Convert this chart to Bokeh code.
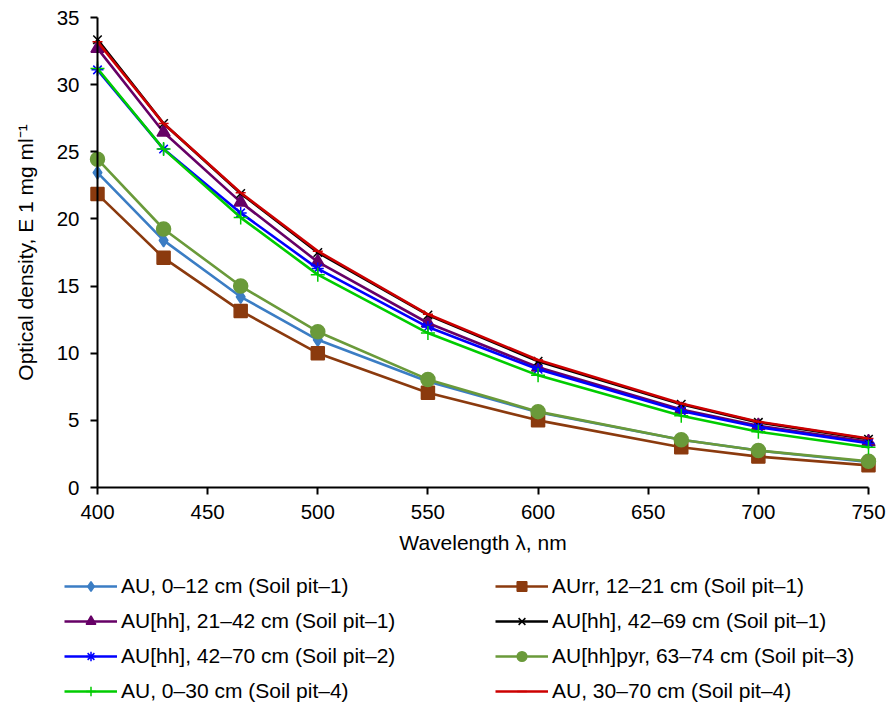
from bokeh.plotting import figure
from bokeh.models import Range1d, Legend, LegendItem, FixedTicker
from bokeh.embed import file_html
from bokeh.resources import INLINE

wavelength = [400, 430, 465, 500, 550, 600, 665, 700, 750]

au_0_12_p1 = [23.45, 18.4, 14.2, 11.0, 7.9, 5.6, 3.55, 2.75, 1.9]
aurr_12_21_p1 = [21.85, 17.1, 13.15, 10.0, 7.05, 5.0, 3.0, 2.3, 1.65]
auhh_21_42_p1 = [32.7, 26.45, 21.25, 16.8, 12.25, 8.95, 5.8, 4.6, 3.4]
auhh_42_69_p1 = [33.35, 27.1, 21.9, 17.5, 12.85, 9.4, 6.2, 4.85, 3.6]
auhh_42_70_p2 = [31.1, 25.2, 20.45, 16.3, 11.95, 8.8, 5.7, 4.5, 3.3]
auhhpyr_63_74_p3 = [24.45, 19.25, 15.0, 11.6, 8.05, 5.65, 3.55, 2.75, 1.95]
au_0_30_p4 = [31.2, 25.2, 20.1, 15.85, 11.5, 8.35, 5.35, 4.15, 3.0]
au_30_70_p4 = [33.2, 27.1, 21.95, 17.6, 12.9, 9.5, 6.25, 4.9, 3.65]

labels = [
    "AU, 0\u201312 cm (Soil pit\u20131)",
    "AUrr, 12\u201321 cm (Soil pit\u20131)",
    "AU[hh], 21\u201342 cm (Soil pit\u20131)",
    "AU[hh], 42\u201369 cm (Soil pit\u20131)",
    "AU[hh], 42\u201370 cm (Soil pit\u20132)",
    "AU[hh]pyr, 63\u201374 cm (Soil pit\u20133)",
    "AU, 0\u201330 cm (Soil pit\u20134)",
    "AU, 30\u201370 cm (Soil pit\u20134)",
]
series = [au_0_12_p1, aurr_12_21_p1, auhh_21_42_p1, auhh_42_69_p1,
          auhh_42_70_p2, auhhpyr_63_74_p3, au_0_30_p4, au_30_70_p4]
colors = ["#3B7DC4", "#8B3A0E", "#660066", "#000000",
          "#0000FF", "#6A9A3A", "#00CC00", "#CC0000"]
markers = ["diamond", "square", "triangle", "x",
           "asterisk", "circle", "cross", "dash"]
msizes = [13, 13, 13, 12, 12, 14, 14, 10]

x_ticks = [400, 450, 500, 550, 600, 650, 700, 750]
y_ticks = [0, 5, 10, 15, 20, 25, 30, 35]
x_min, x_max = 400, 750
y_min, y_max = 0, 35

FONT = "Liberation Sans"
W, H = 888, 703
# plot-area placement in pixels (frame covers whole canvas; axes are fixed)
PL, PR, PT, PB = 97, 868, 17, 487
sx = (PR - PL) / (x_max - x_min)
sy = (PB - PT) / (y_max - y_min)
xr = Range1d(x_min - PL / sx, x_max + (W - PR) / sx)
yr = Range1d(y_min - (H - PB) / sy, y_max + PT / sy)

p = figure(width=W, height=H, output_backend="svg", toolbar_location=None,
           x_range=xr, y_range=yr,
           min_border_left=0, min_border_right=0, min_border_top=0,
           min_border_bottom=0)
p.outline_line_color = None
p.grid.visible = False
p.background_fill_color = "white"
p.border_fill_color = "white"

for ax in (p.xaxis[0], p.yaxis[0]):
    ax.axis_line_width = 2
    ax.axis_line_color = "black"
    ax.major_tick_line_width = 2
    ax.major_tick_line_color = "black"
    ax.major_tick_out = 7
    ax.major_tick_in = 0
    ax.minor_tick_line_color = None
    ax.major_label_text_font = FONT
    ax.major_label_text_font_size = "20.5px"
    ax.major_label_text_color = "black"
    ax.axis_label_text_font = FONT
    ax.axis_label_text_font_size = "21px"
    ax.axis_label_text_font_style = "normal"
    ax.axis_label_text_color = "black"

p.xaxis[0].ticker = FixedTicker(ticks=x_ticks)
p.yaxis[0].ticker = FixedTicker(ticks=y_ticks)
p.xaxis[0].bounds = (x_min, x_max)
p.yaxis[0].bounds = (y_min, y_max)
p.xaxis[0].fixed_location = y_min
p.yaxis[0].fixed_location = x_min
p.xaxis[0].axis_label = "Wavelength \u03bb, nm"
p.yaxis[0].axis_label = "Optical density, E 1 mg ml\u207b\u00b9"
p.xaxis[0].major_label_standoff = 10
p.yaxis[0].major_label_standoff = 11
p.xaxis[0].axis_label_standoff = 9
p.yaxis[0].axis_label_standoff = 17

items = []
for lab, ys, c, m, s in zip(labels, series, colors, markers, msizes):
    lr = p.line(wavelength, ys, line_color=c, line_width=2.6)
    mr = p.scatter(wavelength, ys, marker=m, size=s, fill_color=c,
                   line_color=c, line_width=1.5)
    items.append(LegendItem(label=lab, renderers=[lr, mr]))

def make_legend(its, loc):
    return Legend(items=its, location=loc, orientation="vertical",
                  glyph_width=53, glyph_height=24, label_height=24,
                  label_standoff=4, spacing=11, padding=0, margin=0,
                  border_line_color=None, background_fill_alpha=0,
                  label_text_font=FONT, label_text_font_size="21px",
                  label_text_color="black")

p.add_layout(make_legend([items[0], items[2], items[4], items[6]], (64, 0)), "center")
p.add_layout(make_legend([items[1], items[3], items[5], items[7]], (495, 0)), "center")

open("out.html", "w").write(file_html(p, INLINE))
